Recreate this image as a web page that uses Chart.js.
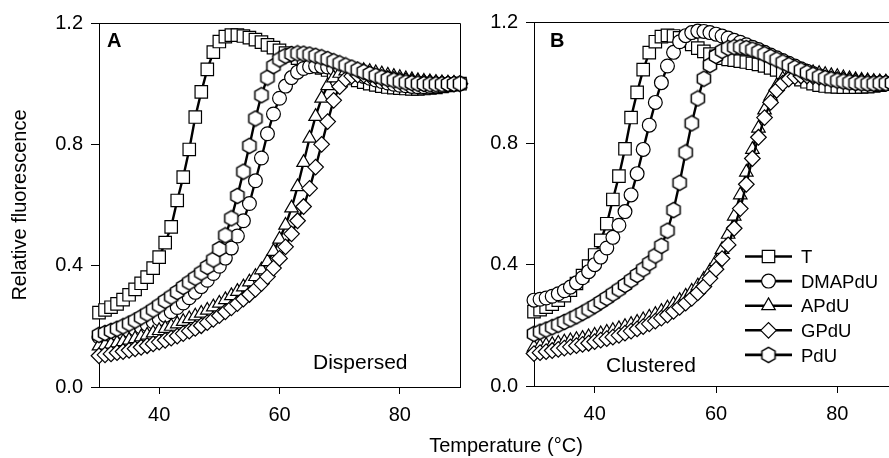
<!DOCTYPE html>
<html>
<head>
<meta charset="utf-8">
<script src="https://cdn.jsdelivr.net/npm/chart.js@4.4.1/dist/chart.umd.min.js"></script>
<style>
  html, body { margin: 0; padding: 0; background: #fff; overflow: hidden; }
  #wrap { position: relative; width: 889px; height: 458px; overflow: hidden; background: #fff; }
  #cA { position: absolute; left: 0; top: 0; }
  #cB { position: absolute; left: 440px; top: 0; }
  #xt { position: absolute; left: 0; top: 435px; width: 1012px; text-align: center;
        font: 20px "Liberation Sans", Arial, sans-serif; line-height: 20px; color: #000; }
</style>
</head>
<body>
<div id="wrap">
  <canvas id="cA" width="470" height="458"></canvas>
  <canvas id="cB" width="470" height="458"></canvas>
  <div id="xt">Temperature (°C)</div>
</div>
<script>
/* Melting curves, relative fluorescence vs temperature.
   Panel A = dispersed modifications, panel B = clustered. */

var TEMPS = [30, 31, 32, 33, 34, 35, 36, 37, 38, 39, 40, 41, 42, 43, 44, 45, 46, 47, 48, 49,
  50, 51, 52, 53, 54, 55, 56, 57, 58, 59, 60, 61, 62, 63, 64, 65, 66, 67, 68, 69,
  70, 71, 72, 73, 74, 75, 76, 77, 78, 79, 80, 81, 82, 83, 84, 85, 86, 87, 88, 89, 90];

var SERIES = ["T", "DMAPdU", "APdU", "GPdU", "PdU"];
var X_TICKS = [40, 60, 80];
var Y_TICKS = [0, 0.4, 0.8, 1.2];

// panel A — dispersed
var A_T = [0.245, 0.254, 0.263, 0.274, 0.288, 0.304, 0.322, 0.342, 0.362, 0.392,
  0.428, 0.476, 0.528, 0.615, 0.692, 0.783, 0.89, 0.973, 1.047, 1.104,
  1.139, 1.155, 1.16, 1.16, 1.157, 1.152, 1.145, 1.137, 1.128, 1.119,
  1.11, 1.101, 1.092, 1.084, 1.076, 1.068, 1.06, 1.052, 1.045, 1.038,
  1.031, 1.024, 1.017, 1.011, 1.005, 1.0, 0.996, 0.992, 0.989, 0.987,
  0.985, 0.984, 0.983, 0.983, 0.984, 0.986, 0.988, 0.991, 0.994, 0.997, 1.0];
var A_DMAPDU = [0.165, 0.168, 0.171, 0.175, 0.18, 0.185, 0.191, 0.198, 0.206, 0.215,
  0.225, 0.236, 0.248, 0.262, 0.277, 0.294, 0.312, 0.331, 0.352, 0.374,
  0.398, 0.425, 0.458, 0.498, 0.548, 0.605, 0.68, 0.755, 0.835, 0.9,
  0.952, 0.992, 1.02, 1.038, 1.05, 1.056, 1.058, 1.057, 1.055, 1.051,
  1.047, 1.042, 1.036, 1.03, 1.024, 1.018, 1.012, 1.007, 1.002, 0.998,
  0.995, 0.993, 0.991, 0.99, 0.99, 0.991, 0.992, 0.994, 0.996, 0.998, 1.0];
var A_APDU = [0.135, 0.138, 0.141, 0.145, 0.149, 0.154, 0.159, 0.165, 0.171, 0.178,
  0.186, 0.193, 0.2, 0.208, 0.216, 0.225, 0.234, 0.243, 0.253, 0.264,
  0.276, 0.288, 0.301, 0.315, 0.33, 0.346, 0.364, 0.386, 0.413, 0.447,
  0.487, 0.533, 0.59, 0.66, 0.74, 0.82, 0.892, 0.952, 0.993, 1.019,
  1.034, 1.042, 1.045, 1.045, 1.043, 1.04, 1.036, 1.032, 1.028, 1.024,
  1.02, 1.016, 1.013, 1.01, 1.008, 1.006, 1.004, 1.003, 1.002, 1.001, 1.0];
var A_GPDU = [0.103, 0.106, 0.109, 0.113, 0.117, 0.121, 0.126, 0.131, 0.136, 0.142,
  0.148, 0.154, 0.161, 0.168, 0.176, 0.184, 0.193, 0.202, 0.212, 0.223,
  0.235, 0.248, 0.261, 0.275, 0.29, 0.305, 0.322, 0.341, 0.364, 0.392,
  0.424, 0.462, 0.505, 0.548, 0.595, 0.655, 0.725, 0.8, 0.875, 0.945,
  0.99, 1.015, 1.025, 1.028, 1.028, 1.026, 1.023, 1.02, 1.017, 1.014,
  1.011, 1.009, 1.007, 1.005, 1.004, 1.003, 1.002, 1.001, 1.0, 1.0, 1.0];
var A_PDU = [0.172, 0.178, 0.185, 0.192, 0.2, 0.209, 0.219, 0.23, 0.242, 0.255,
  0.269, 0.284, 0.298, 0.313, 0.33, 0.345, 0.36, 0.377, 0.396, 0.42,
  0.455, 0.5, 0.556, 0.63, 0.71, 0.795, 0.885, 0.962, 1.02, 1.058,
  1.08, 1.092, 1.098, 1.1, 1.099, 1.096, 1.092, 1.087, 1.081, 1.074,
  1.067, 1.06, 1.053, 1.046, 1.039, 1.032, 1.026, 1.02, 1.015, 1.011,
  1.007, 1.004, 1.002, 1.0, 0.999, 0.998, 0.998, 0.998, 0.999, 0.999, 1.0];

// panel B — clustered
var B_T = [0.245, 0.252, 0.26, 0.27, 0.283, 0.298, 0.316, 0.338, 0.364, 0.395,
  0.432, 0.48, 0.535, 0.615, 0.692, 0.782, 0.885, 0.968, 1.043, 1.099,
  1.135, 1.152, 1.156, 1.154, 1.148, 1.138, 1.126, 1.114, 1.103, 1.094,
  1.087, 1.081, 1.077, 1.074, 1.071, 1.068, 1.064, 1.06, 1.055, 1.049,
  1.042, 1.034, 1.026, 1.018, 1.01, 1.003, 0.997, 0.992, 0.989, 0.987,
  0.986, 0.985, 0.985, 0.985, 0.986, 0.987, 0.989, 0.992, 0.995, 0.997, 1.0];
var B_DMAPDU = [0.283, 0.286, 0.29, 0.296, 0.304, 0.314, 0.326, 0.34, 0.357, 0.377,
  0.4, 0.425, 0.455, 0.49, 0.53, 0.575, 0.63, 0.7, 0.78, 0.86,
  0.935, 1.0, 1.055, 1.1, 1.135, 1.155, 1.165, 1.17, 1.169, 1.165,
  1.16, 1.154, 1.147, 1.14, 1.133, 1.125, 1.117, 1.109, 1.1, 1.091,
  1.082, 1.073, 1.064, 1.055, 1.046, 1.038, 1.03, 1.023, 1.017, 1.012,
  1.008, 1.004, 1.001, 0.999, 0.998, 0.997, 0.997, 0.997, 0.998, 0.999, 1.0];
var B_APDU = [0.128, 0.131, 0.134, 0.137, 0.141, 0.145, 0.149, 0.153, 0.157, 0.162,
  0.167, 0.172, 0.177, 0.183, 0.189, 0.196, 0.203, 0.21, 0.218, 0.227,
  0.236, 0.246, 0.257, 0.269, 0.282, 0.296, 0.312, 0.33, 0.352, 0.378,
  0.41, 0.45, 0.5, 0.56, 0.63, 0.705, 0.78, 0.85, 0.91, 0.955,
  0.99, 1.012, 1.025, 1.032, 1.035, 1.035, 1.033, 1.03, 1.027, 1.023,
  1.02, 1.016, 1.013, 1.01, 1.008, 1.006, 1.004, 1.003, 1.002, 1.001, 1.0];
var B_GPDU = [0.107, 0.11, 0.113, 0.117, 0.121, 0.125, 0.129, 0.133, 0.137, 0.141,
  0.146, 0.151, 0.156, 0.161, 0.167, 0.174, 0.181, 0.188, 0.196, 0.205,
  0.214, 0.224, 0.234, 0.246, 0.259, 0.273, 0.289, 0.307, 0.328, 0.355,
  0.385, 0.42, 0.465, 0.52, 0.585, 0.665, 0.75, 0.82, 0.885, 0.935,
  0.975, 0.998, 1.012, 1.02, 1.022, 1.022, 1.02, 1.018, 1.015, 1.012,
  1.01, 1.008, 1.006, 1.004, 1.003, 1.002, 1.001, 1.0, 1.0, 1.0, 1.0];
var B_PDU = [0.172, 0.179, 0.186, 0.194, 0.202, 0.211, 0.22, 0.23, 0.241, 0.252,
  0.264, 0.277, 0.29, 0.304, 0.318, 0.333, 0.349, 0.366, 0.385, 0.405,
  0.43, 0.462, 0.512, 0.58, 0.67, 0.77, 0.866, 0.948, 1.013, 1.058,
  1.088, 1.105, 1.114, 1.117, 1.117, 1.114, 1.109, 1.102, 1.094, 1.085,
  1.076, 1.067, 1.058, 1.049, 1.041, 1.033, 1.026, 1.02, 1.015, 1.011,
  1.007, 1.004, 1.001, 0.999, 0.998, 0.997, 0.997, 0.998, 0.998, 0.999, 1.0];

(function () {
  "use strict";
  var FONT = '"Liberation Sans", Arial, Helvetica, sans-serif';
  var INK = "#000";
  Chart.defaults.font.family = FONT;
  Chart.defaults.color = INK;

  // hexagon marker (no built-in style for it)
  function hexagon(r) {
    var s = 2 * Math.ceil(r + 1);
    var c = document.createElement("canvas");
    c.width = s; c.height = s;
    var g = c.getContext("2d");
    g.beginPath();
    for (var i = 0; i < 6; i++) {
      var a = Math.PI / 3 * i - Math.PI / 2;
      var px = s / 2 + r * Math.cos(a), py = s / 2 + r * Math.sin(a);
      if (i) g.lineTo(px, py); else g.moveTo(px, py);
    }
    g.closePath();
    g.fillStyle = "#fff"; g.fill();
    g.lineWidth = 1.5; g.strokeStyle = INK; g.stroke();
    return c;
  }

  var MARK = {
    T: { style: "rect", r: 8.8 },
    DMAPdU: { style: "circle", r: 6.9 },
    APdU: { style: "triangle", r: 7.8 },
    GPdU: { style: "rectRot", r: 7.8 },
    PdU: { style: hexagon(7.6), r: 7.6 }
  };

  function datasets(cols) {
    return SERIES.map(function (name, i) {
      return {
        label: name,
        data: TEMPS.map(function (t, j) { return { x: t, y: cols[i][j] }; }),
        borderColor: INK, borderWidth: 2.4,
        pointStyle: MARK[name].style, pointRadius: MARK[name].r,
        pointBackgroundColor: "#fff", pointBorderColor: INK, pointBorderWidth: 1.2,
        order: SERIES.length - i,   // PdU drawn last (on top)
        clip: false, tension: 0
      };
    });
  }

  var frame = {
    id: "frame",
    afterDraw: function (chart) {
      var a = chart.chartArea, ctx = chart.ctx;
      ctx.save();
      ctx.strokeStyle = INK; ctx.lineWidth = 1;
      ctx.beginPath();
      ctx.moveTo(Math.round(a.left) + 0.5, Math.round(a.top) + 0.5);
      ctx.lineTo(Math.round(a.right) + 0.5, Math.round(a.top) + 0.5);
      ctx.lineTo(Math.round(a.right) + 0.5, Math.round(a.bottom) + 0.5);
      ctx.stroke();
      ctx.restore();
    }
  };

  var notes = {
    id: "notes",
    afterDraw: function (chart, args, o) {
      var ctx = chart.ctx;
      ctx.save();
      ctx.fillStyle = INK;
      ctx.textAlign = "left"; ctx.textBaseline = "alphabetic";
      ctx.font = "bold 20px " + FONT;
      ctx.fillText(o.letter[0], o.letter[1], o.letter[2]);
      ctx.font = "21px " + FONT;
      ctx.fillText(o.cond[0], o.cond[1], o.cond[2]);
      ctx.restore();
    }
  };

  function markerAt(ctx, name, x, y) {
    var m = MARK[name];
    ctx.fillStyle = "#fff"; ctx.strokeStyle = INK; ctx.lineWidth = 1.2;
    Chart.helpers.drawPoint(ctx, { pointStyle: m.style, radius: m.r, borderWidth: 1.2, rotation: 0 }, x, y);
  }

  var legendBox = {
    id: "legendBox",
    afterDraw: function (chart, args, o) {
      if (!o.show) return;
      var ctx = chart.ctx;
      ctx.save();
      SERIES.forEach(function (name, i) {
        var y = o.y0 + i * o.dy;
        ctx.strokeStyle = INK; ctx.lineWidth = 2.6;
        ctx.beginPath(); ctx.moveTo(o.x0, y); ctx.lineTo(o.x1, y); ctx.stroke();
        markerAt(ctx, name, (o.x0 + o.x1) / 2, y);
        ctx.fillStyle = INK;
        ctx.font = "18.5px " + FONT;
        ctx.textAlign = "left"; ctx.textBaseline = "alphabetic";
        ctx.fillText(name, o.tx, y + 6.7);
      });
      ctx.restore();
    }
  };

  function options(cfg) {
    return {
      responsive: false, animation: false, events: [],
      layout: { padding: cfg.pad },
      plugins: {
        legend: { display: false }, tooltip: { enabled: false },
        notes: cfg.notes, legendBox: cfg.legend
      },
      scales: {
        x: {
          type: "linear", min: 30, max: 90,
          afterBuildTicks: function (s) { s.ticks = X_TICKS.map(function (v) { return { value: v }; }); },
          afterFit: function (s) { s.height = cfg.xh; },
          grid: { display: true, drawOnChartArea: false, drawTicks: true, tickLength: 7, color: INK, lineWidth: 1 },
          border: { display: true, color: INK, width: 1 },
          ticks: { font: { size: 20 }, color: INK, padding: 9, maxRotation: 0 }
        },
        y: {
          type: "linear", min: 0, max: 1.2,
          afterBuildTicks: function (s) { s.ticks = Y_TICKS.map(function (v) { return { value: v }; }); },
          afterFit: function (s) { s.width = cfg.yw; },
          grid: { display: true, drawOnChartArea: false, drawTicks: true, tickLength: 8, color: INK, lineWidth: 1 },
          border: { display: true, color: INK, width: 1 },
          ticks: { font: { size: 20 }, color: INK, padding: 8, callback: function (v) { return v.toFixed(1); } },
          title: cfg.ytitle
        }
      }
    };
  }

  new Chart(document.getElementById("cA"), {
    type: "line",
    data: { datasets: datasets([A_T, A_DMAPDU, A_APDU, A_GPDU, A_PDU]) },
    options: options({
      pad: { left: 0, right: 9, top: 23, bottom: 0 }, xh: 71, yw: 99,
      ytitle: { display: true, text: "Relative fluorescence", font: { size: 20 }, color: INK, padding: { top: 8, bottom: 0 } },
      notes: { letter: ["A", 107, 47], cond: ["Dispersed", 313, 369] },
      legend: { show: false }
    }),
    plugins: [frame, notes, legendBox]
  });

  new Chart(document.getElementById("cB"), {
    type: "line",
    data: { datasets: datasets([B_T, B_DMAPDU, B_APDU, B_GPDU, B_PDU]) },
    options: options({
      pad: { left: 0, right: 12, top: 22, bottom: 0 }, xh: 72, yw: 94,
      ytitle: { display: false },
      notes: { letter: ["B", 110, 47], cond: ["Clustered", 166, 372] },
      legend: { show: true, x0: 305, x1: 352, tx: 361, y0: 256.5, dy: 24.6 }
    }),
    plugins: [frame, notes, legendBox]
  });
})();
</script>
</body>
</html>
